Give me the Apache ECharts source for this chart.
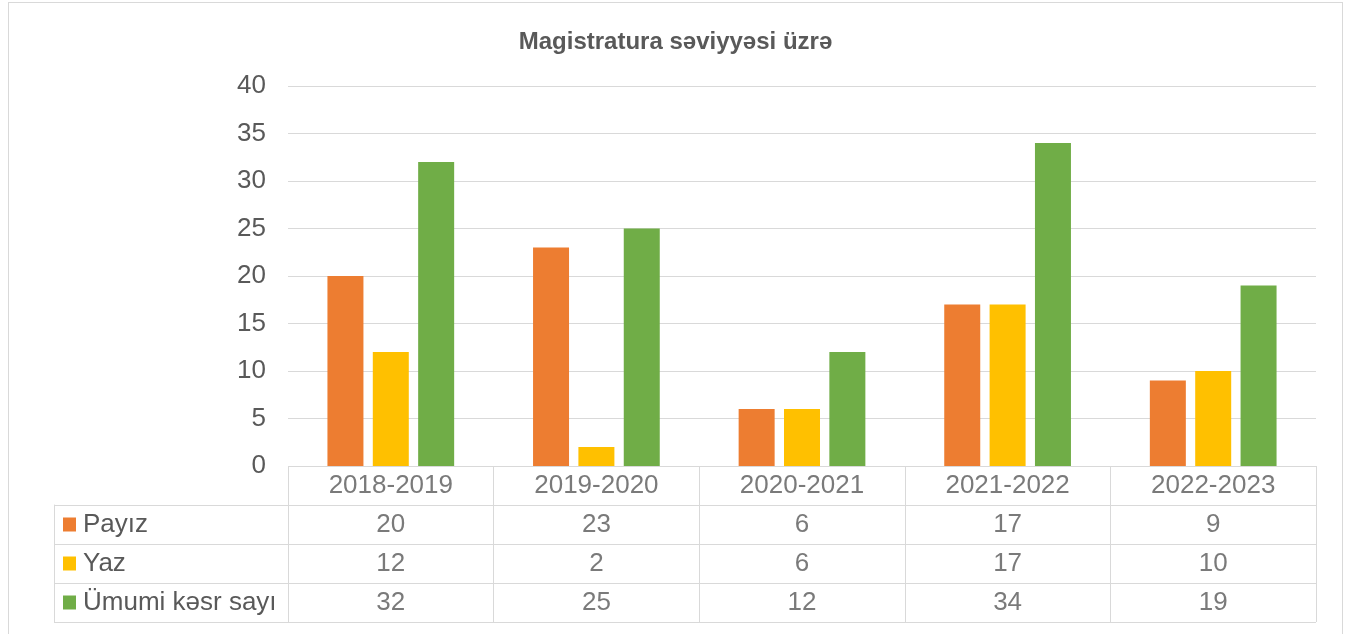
<!DOCTYPE html>
<html>
<head>
<meta charset="utf-8">
<script src="https://cdn.jsdelivr.net/npm/echarts@6/dist/echarts.min.js"></script>
<style>
  html, body { margin: 0; padding: 0; background: #fff; overflow: hidden; }
  #frame { position: absolute; left: 8px; top: 2px; width: 1335px; height: 700px; border: 1px solid #d9d9d9; box-sizing: border-box; }
  #chart { position: absolute; left: 0; top: 0; width: 1351px; height: 634px; }
</style>
</head>
<body>
<div id="frame"></div>
<div id="chart"></div>
<script>
const titleText = 'Magistratura səviyyəsi üzrə';
const categories = ['2018-2019', '2019-2020', '2020-2021', '2021-2022', '2022-2023'];
const seriesNames = ['Payız', 'Yaz', 'Ümumi kəsr sayı'];
const payiz = [20, 23, 6, 17, 9];
const yaz = [12, 2, 6, 17, 10];
const umumi = [32, 25, 12, 34, 19];
const colors = ['#ED7D31', '#FFC000', '#70AD47'];
const yTicks = { min: 0, max: 40, interval: 5 };

const seriesValues = [payiz, yaz, umumi];
const font = "'Liberation Sans', Arial, sans-serif";
const txt = '#595959';
const lineCol = '#d9d9d9';

// table cell texts (header row + one row per series)
const tableRows = ['hdr'].concat(seriesNames);
const cellData = [];
categories.forEach((c, i) => cellData.push([i, 0, c]));
seriesValues.forEach((vals, s) => vals.forEach((v, i) => cellData.push([i, s + 1, String(v)])));

const rich = { t: { fontSize: 26, color: txt, fontFamily: font, padding: [0, 0, 0, 7] } };
colors.forEach((c, i) => { rich['s' + i] = { width: 13, height: 14, backgroundColor: c }; });

const chart = echarts.init(document.getElementById('chart'), null, { renderer: 'canvas' });
chart.setOption({
  animation: false,
  backgroundColor: 'transparent',
  textStyle: { fontFamily: font },
  title: {
    text: titleText, left: 'center', top: 25,
    textStyle: { fontSize: 24, fontWeight: 'bold', color: txt, fontFamily: font }
  },
  grid: [
    { left: 288, right: 35, top: 86, height: 380 },
    { left: 288, right: 35, top: 466, height: 156 },
    { left: 54, width: 234, top: 505, height: 117 }
  ],
  xAxis: [
    { gridIndex: 0, type: 'category', data: categories,
      axisLine: { show: false }, axisTick: { show: false }, axisLabel: { show: false } },
    { gridIndex: 1, type: 'category', data: categories,
      axisLine: { show: false }, axisTick: { show: false }, axisLabel: { show: false },
      splitLine: { show: true, interval: 0, lineStyle: { color: lineCol, width: 1 } } },
    { gridIndex: 2, type: 'value', show: false }
  ],
  yAxis: [
    { gridIndex: 0, type: 'value', min: yTicks.min, max: yTicks.max, interval: yTicks.interval,
      axisLine: { show: false }, axisTick: { show: false },
      axisLabel: { fontSize: 26, color: txt, margin: 22, fontFamily: font },
      splitLine: { lineStyle: { color: lineCol, width: 1 } } },
    { gridIndex: 1, type: 'category', data: tableRows, inverse: true,
      axisLine: { show: false }, axisTick: { show: false }, axisLabel: { show: false },
      splitLine: { show: true, interval: 0, lineStyle: { color: lineCol, width: 1 } } },
    { gridIndex: 2, type: 'category', data: seriesNames, inverse: true,
      axisLine: { show: true, lineStyle: { color: lineCol, width: 1 } }, axisTick: { show: false },
      axisLabel: { inside: true, margin: 9, formatter: (v, i) => '{s' + i + '|}{t|' + v + '}', rich: rich },
      splitLine: { show: true, interval: 0, lineStyle: { color: lineCol, width: 1 } } }
  ],
  series: seriesNames.map((n, s) => ({
    name: n, type: 'bar', xAxisIndex: 0, yAxisIndex: 0,
    data: seriesValues[s], barWidth: 36, barGap: '26%',
    itemStyle: { color: colors[s] }, silent: true
  })).concat([{
    type: 'scatter', xAxisIndex: 1, yAxisIndex: 1, data: cellData,
    symbolSize: 1, itemStyle: { color: 'transparent' }, silent: true,
    label: { show: true, position: 'inside', formatter: p => p.value[2],
      fontSize: 26, color: txt, fontFamily: font }
  }])
});
</script>
</body>
</html>
